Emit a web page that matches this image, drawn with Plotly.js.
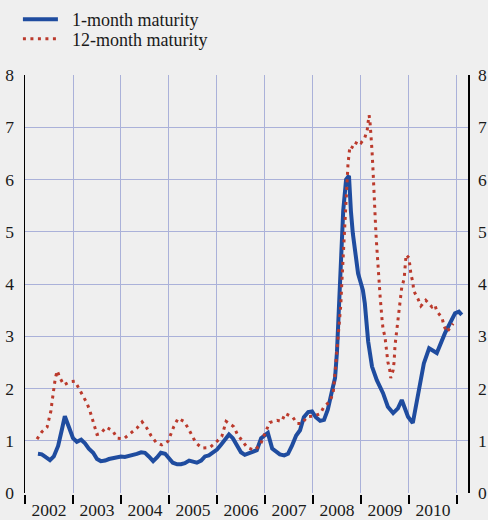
<!DOCTYPE html>
<html>
<head>
<meta charset="utf-8">
<script src="https://cdn.plot.ly/plotly-3.0.1.min.js"></script>
<style>html,body{margin:0;padding:0;background:#efefef;}#chart{width:488px;height:520px;}</style>
</head>
<body>
<div id="chart"></div>
<script>
// 1-month maturity (decimal year, %)
var oneMonthX = [2002.27,2002.35,2002.44,2002.52,2002.60,2002.69,2002.77,2002.83,2002.92,2003.00,2003.08,2003.17,2003.25,2003.33,2003.42,2003.50,2003.58,2003.67,2003.75,2003.83,2003.92,2004.00,2004.08,2004.17,2004.25,2004.33,2004.42,2004.50,2004.58,2004.67,2004.75,2004.83,2004.92,2005.00,2005.08,2005.17,2005.25,2005.33,2005.42,2005.50,2005.58,2005.67,2005.75,2005.83,2005.92,2006.00,2006.08,2006.17,2006.25,2006.33,2006.42,2006.50,2006.58,2006.67,2006.75,2006.83,2006.92,2007.00,2007.06,2007.15,2007.23,2007.31,2007.40,2007.48,2007.56,2007.65,2007.73,2007.81,2007.90,2007.98,2008.06,2008.15,2008.23,2008.31,2008.40,2008.46,2008.50,2008.54,2008.58,2008.63,2008.69,2008.75,2008.79,2008.83,2008.94,2009.04,2009.08,2009.15,2009.23,2009.33,2009.46,2009.56,2009.67,2009.77,2009.85,2009.98,2010.08,2010.19,2010.31,2010.42,2010.58,2010.75,2010.85,2010.96,2011.04,2011.10];
var oneMonthY = [0.75,0.74,0.68,0.63,0.70,0.90,1.22,1.47,1.25,1.05,0.98,1.02,0.95,0.85,0.77,0.65,0.61,0.62,0.65,0.66,0.68,0.70,0.69,0.71,0.72,0.75,0.78,0.77,0.70,0.61,0.68,0.77,0.75,0.66,0.58,0.55,0.55,0.57,0.62,0.60,0.58,0.62,0.70,0.72,0.78,0.83,0.92,1.03,1.12,1.05,0.92,0.78,0.73,0.77,0.80,0.82,1.05,1.10,1.15,0.85,0.80,0.74,0.72,0.75,0.90,1.10,1.20,1.45,1.55,1.56,1.45,1.38,1.40,1.60,1.97,2.20,2.70,3.60,4.50,5.40,6.00,6.07,5.40,4.97,4.20,3.88,3.63,2.90,2.42,2.16,1.91,1.65,1.53,1.62,1.78,1.46,1.34,1.84,2.48,2.77,2.68,3.06,3.25,3.44,3.47,3.41];

// 12-month maturity (decimal year, %)
var twelveMonthX = [2002.25,2002.35,2002.46,2002.50,2002.54,2002.56,2002.58,2002.60,2002.63,2002.67,2002.73,2002.81,2002.94,2003.04,2003.13,2003.21,2003.29,2003.35,2003.40,2003.44,2003.50,2003.58,2003.69,2003.83,2003.92,2004.06,2004.21,2004.33,2004.44,2004.54,2004.63,2004.73,2004.85,2004.98,2005.04,2005.10,2005.19,2005.31,2005.40,2005.48,2005.56,2005.69,2005.85,2005.98,2006.10,2006.19,2006.35,2006.42,2006.52,2006.63,2006.77,2006.90,2006.96,2007.02,2007.10,2007.25,2007.35,2007.42,2007.58,2007.67,2007.77,2007.88,2008.02,2008.15,2008.23,2008.35,2008.42,2008.46,2008.50,2008.54,2008.58,2008.60,2008.63,2008.65,2008.69,2008.71,2008.73,2008.77,2008.85,2008.92,2009.00,2009.08,2009.13,2009.15,2009.17,2009.19,2009.21,2009.23,2009.25,2009.27,2009.29,2009.31,2009.33,2009.35,2009.38,2009.40,2009.44,2009.46,2009.50,2009.54,2009.56,2009.60,2009.62,2009.67,2009.69,2009.71,2009.73,2009.75,2009.77,2009.79,2009.81,2009.83,2009.85,2009.90,2009.94,2010.00,2010.02,2010.04,2010.08,2010.10,2010.19,2010.25,2010.35,2010.48,2010.54,2010.58,2010.69,2010.73,2010.79,2010.92];
var twelveMonthY = [1.03,1.17,1.26,1.41,1.57,1.72,1.89,2.04,2.19,2.34,2.20,2.07,2.13,2.14,1.99,1.86,1.72,1.58,1.42,1.27,1.12,1.14,1.26,1.19,1.05,1.04,1.15,1.24,1.36,1.24,1.09,0.97,0.92,0.99,1.13,1.27,1.43,1.37,1.24,1.09,0.96,0.86,0.87,0.97,1.08,1.37,1.27,1.13,1.00,0.87,0.82,0.91,1.06,1.20,1.35,1.39,1.37,1.52,1.45,1.33,1.33,1.46,1.47,1.52,1.65,1.75,1.91,2.30,2.70,3.10,3.60,4.00,4.50,5.05,5.55,6.00,6.30,6.64,6.60,6.74,6.70,6.80,6.95,7.10,7.23,7.08,6.85,6.55,6.20,5.70,5.30,5.00,4.70,4.40,4.08,3.75,3.31,3.14,2.99,2.66,2.51,2.35,2.20,2.35,2.51,2.83,2.99,3.16,3.31,3.45,3.62,3.77,3.94,4.10,4.56,4.50,4.34,4.19,4.04,3.87,3.71,3.58,3.69,3.56,3.60,3.48,3.35,3.20,3.08,3.24,3.37,3.39];

var yearTicks = [2002,2003,2004,2005,2006,2007,2008,2009,2010,2011];
var yearLabelPos = [2002.5,2003.5,2004.5,2005.5,2006.5,2007.5,2008.5,2009.5,2010.5];
var yearLabels = ['2002','2003','2004','2005','2006','2007','2008','2009','2010'];
var yTicks = [0,1,2,3,4,5,6,7,8];
var seriesNames = ['1-month maturity', '12-month maturity'];

var xRange = [2002, 2011.23];
var fontFam = '"Liberation Serif", "Times New Roman", Times, serif';
var gridCol = '#aab1d9';
var pad = '\u00a0\u00a0';

var traces = [
  {x: oneMonthX, y: oneMonthY, type: 'scatter', mode: 'lines', name: pad + seriesNames[0],
   legend: 'legend', line: {color: '#1f4c9f', width: 4}},
  {x: twelveMonthX, y: twelveMonthY, type: 'scatter', mode: 'lines', name: pad + seriesNames[1],
   legend: 'legend2', line: {color: '#bb3a2c', width: 3, dash: '3px,4.5px'}}
];

var legendFont = {family: fontFam, size: 18, color: '#1a1a1a'};
var layout = {
  width: 488, height: 520,
  paper_bgcolor: '#efefef', plot_bgcolor: '#efefef',
  margin: {l: 25, r: 20, t: 75, b: 27, autoexpand: false},
  font: {family: fontFam, size: 17.5, color: '#1a1a1a'},
  showlegend: true,
  legend: {x: -0.016, y: 1.177, xanchor: 'left', yanchor: 'top', bgcolor: 'rgba(0,0,0,0)',
           font: legendFont, itemwidth: 35},
  legend2: {x: -0.016, y: 1.130, xanchor: 'left', yanchor: 'top', bgcolor: 'rgba(0,0,0,0)',
            font: legendFont, itemwidth: 35},
  xaxis: {range: xRange, tickvals: yearTicks, showticklabels: false, showgrid: true,
          gridcolor: gridCol, gridwidth: 1, ticks: 'outside', ticklen: 9, tickwidth: 1.5,
          tickcolor: '#000', zeroline: false, showline: true, linecolor: '#efefef', linewidth: 2,
          fixedrange: true},
  xaxis2: {range: xRange, overlaying: 'x', side: 'bottom', tickvals: yearLabelPos, ticktext: yearLabels,
           ticks: '', showgrid: false, zeroline: false, showline: false, ticklabelstandoff: 4,
           tickfont: {family: fontFam, size: 17.5, color: '#1a1a1a'}},
  yaxis: {range: [0, 8], tickvals: yTicks, showgrid: true, gridcolor: gridCol, gridwidth: 1,
          zeroline: false, showline: true, linecolor: '#000', linewidth: 1.5, ticks: '',
          ticklabelstandoff: 6, tickfont: {family: fontFam, size: 17.5, color: '#1a1a1a'}},
  yaxis2: {range: [0, 8], overlaying: 'y', side: 'right', tickvals: yTicks, showgrid: false,
           zeroline: false, showline: true, linecolor: '#000', linewidth: 1.5, ticks: '',
           ticklabelstandoff: 5, tickfont: {family: fontFam, size: 17.5, color: '#1a1a1a'}}
};

// invisible helper trace so the overlay axes render
traces.push({x: [2002], y: [0], xaxis: 'x2', yaxis: 'y2', mode: 'markers', marker: {opacity: 0},
             showlegend: false, hoverinfo: 'skip'});

Plotly.newPlot('chart', traces, layout, {displayModeBar: false, staticPlot: true});
</script>
</body>
</html>
